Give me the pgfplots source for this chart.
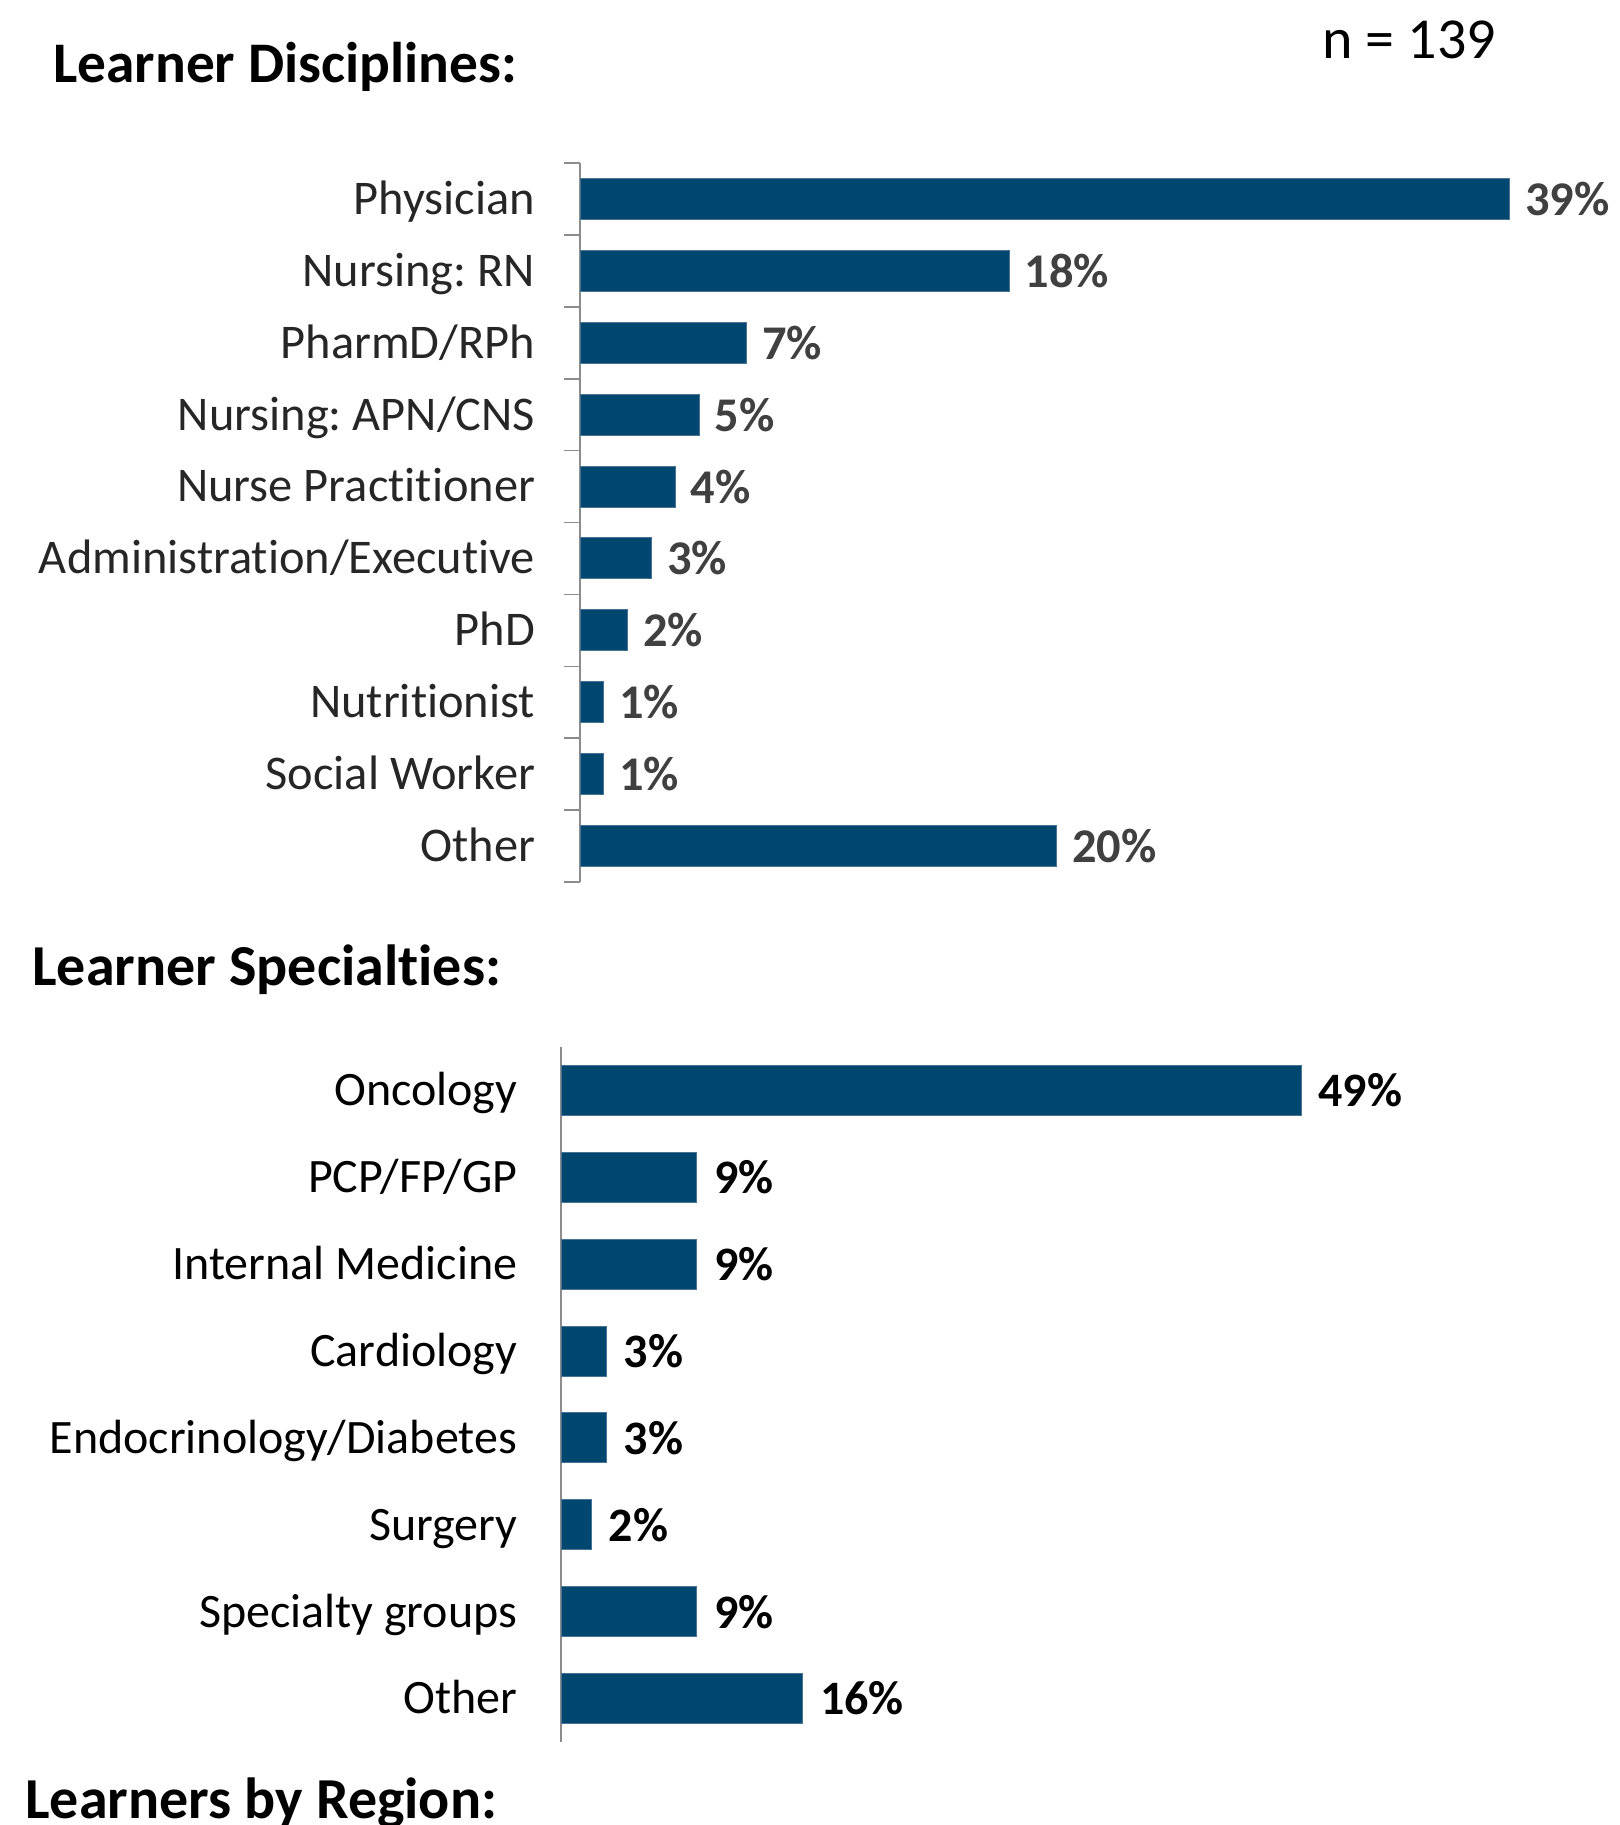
\documentclass[border=0pt]{standalone}
\usepackage{pgfplots}
\pgfplotsset{compat=1.18}
\usepackage{fontspec}
\setmainfont[Ligatures=NoCommon]{Carlito}
\definecolor{barblue}{HTML}{00476F}
\definecolor{baredge}{HTML}{4A7396}
\definecolor{axisgray}{HTML}{8C8C8C}
\definecolor{lbltop}{HTML}{262626}
\definecolor{pcttop}{HTML}{404040}
\begin{document}
\frenchspacing
\begin{tikzpicture}[x=0.5pt,y=-0.5pt]
\path[use as bounding box] (0,0) rectangle (1619,1825);
\clip (0,0) rectangle (1619,1825);
\node[anchor=base west, inner sep=0pt, font=\fontsize{28.7}{34}\selectfont\bfseries] at (53,82.3) {Learner Disciplines:};
\node[anchor=base west, inner sep=0pt, font=\fontsize{29}{34}\selectfont\bfseries] at (32,985) {Learner Specialties:};
\node[anchor=base west, inner sep=0pt, font=\fontsize{29}{34}\selectfont\bfseries] at (25,1818.3) {Learners by Region:};
\node[anchor=base west, inner sep=0pt, font=\fontsize{29}{34}\selectfont] at (1322,58.3) {n = 139};

\begin{axis}[
  at={(290pt,-81.5pt)}, anchor=north west,
  scale only axis, width=476.8pt, height=359.5pt,
  xmin=0, xmax=40, ymin=-0.5, ymax=9.5, y dir=reverse,
  hide x axis, axis y line*=left,
  y axis line style={draw=axisgray, line width=0.8pt, -},
  ytick={0,...,9},
  yticklabels={Physician, Nursing: RN, PharmD/RPh, Nursing: APN/CNS, Nurse Practitioner, Administration/Executive, PhD, Nutritionist, Social Worker, Other},
  major tick length=0pt,
  y tick label style={anchor=base east, inner sep=0pt, xshift=-22.3pt, yshift=-7.7pt, font=\fontsize{24.2}{29}\selectfont, text=lbltop},
  extra y ticks={-0.5,0.5,1.5,2.5,3.5,4.5,5.5,6.5,7.5,8.5,9.5},
  extra y tick labels={},
  extra y tick style={major tick length=8pt, tick align=outside, tick style={draw=axisgray, line width=0.8pt}},
  /pgf/number format/assume math mode=true,
  clip=false,
]
\addplot[xbar, bar width=0.57, fill=barblue, draw=baredge, line width=0.5pt,
  point meta=x,
  nodes near coords={\pgfmathprintnumber[fixed,precision=0,assume math mode=true]{\pgfplotspointmeta}\%},
  every node near coord/.append style={anchor=west, inner sep=0pt, xshift=7.5pt, font=\fontsize{24.2}{29}\selectfont\bfseries, text=pcttop}]
coordinates {(39,0) (18,1) (7,2) (5,3) (4,4) (3,5) (2,6) (1,7) (1,8) (20,9)};
\end{axis}

\begin{axis}[
  at={(280.5pt,-523.5pt)}, anchor=north west,
  scale only axis, width=377.55pt, height=347.5pt,
  xmin=0, xmax=50, ymin=-0.5, ymax=7.5, y dir=reverse,
  hide x axis, axis y line*=left,
  y axis line style={draw=axisgray, line width=0.8pt, -},
  ytick={0,...,7},
  yticklabels={Oncology, PCP/FP/GP, Internal Medicine, Cardiology, Endocrinology/Diabetes, Surgery, Specialty groups, Other},
  major tick length=0pt,
  y tick label style={anchor=base east, inner sep=0pt, xshift=-21.7pt, yshift=-7.7pt, font=\fontsize{24}{29}\selectfont, text=black},
  /pgf/number format/assume math mode=true,
  clip=false,
]
\addplot[xbar, bar width=0.575, fill=barblue, draw=baredge, line width=0.5pt,
  point meta=x,
  nodes near coords={\pgfmathprintnumber[fixed,precision=0,assume math mode=true]{\pgfplotspointmeta}\%},
  every node near coord/.append style={anchor=west, inner sep=0pt, xshift=8.5pt, font=\fontsize{24}{29}\selectfont\bfseries, text=black}]
coordinates {(49,0) (9,1) (9,2) (3,3) (3,4) (2,5) (9,6) (16,7)};
\end{axis}
\end{tikzpicture}
\end{document}
